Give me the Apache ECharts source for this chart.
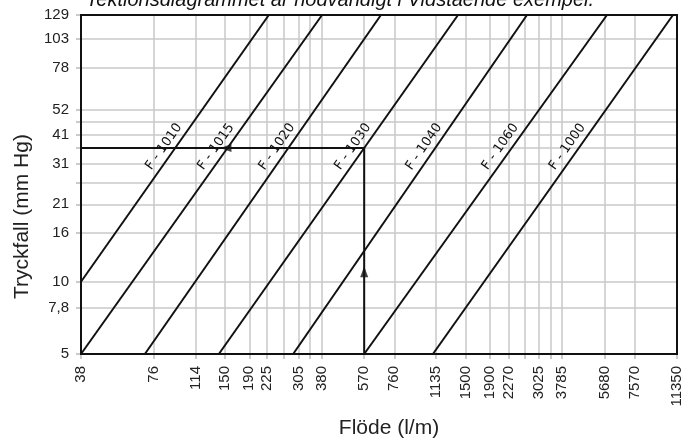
<!DOCTYPE html>
<html><head><meta charset="utf-8">
<script src="https://cdn.jsdelivr.net/npm/echarts@6/dist/echarts.min.js"></script>
<style>html,body{margin:0;padding:0;background:#fff}#c{width:681px;height:441px}</style>
</head><body><div id="c"></div>
<script>
const titleText = 'Tektionsdiagrammet är nödvändigt i Vidstående exempel.';
const xName = 'Flöde (l/m)';
const yName = 'Tryckfall (mm Hg)';
const xTicks = [38, 76, 114, 150, 190, 225, 305, 380, 570, 760, 1135, 1500, 1900, 2270, 3025, 3785, 5680, 7570, 11350];
const xExtraGrid = [265, 340, 2650, 3400];
const yTicks = [5, 7.8, 10, 16, 21, 31, 41, 52, 78, 103, 129];
const yTickLabels = ['5', '7,8', '10', '16', '21', '31', '41', '52', '78', '103', '129'];
const yExtraGrid = [25.9, 36.2, 46.5];
const filterNames = ['F - 1010', 'F - 1015', 'F - 1020', 'F - 1030', 'F - 1040', 'F - 1060', 'F - 1000'];
const lineStart = [[38, 10], [38, 5], [70, 5], [142, 5], [289, 5], [570, 5], [1100, 5]];
const lineEnd = [[229, 129], [381, 129], [669, 129], [1398, 129], [2704, 129], [5810, 129], [10920, 129]];
const pathX = [570, 570, 38];
const pathY = [5, 36, 36];
const arrowUp = [570, 11];
const arrowLeft = [152, 36];
const labelLevel = 34.5;

const FONT = 'Liberation Sans, Arial, sans-serif';
const chart = echarts.init(document.getElementById('c'));

const series = filterNames.map((n, i) => ({
  type: 'line', name: n, data: [lineStart[i], lineEnd[i]], symbol: 'none', silent: true,
  lineStyle: { color: '#111', width: 2 }, z: 3
}));
series.push({
  type: 'line', name: 'path', data: pathX.map((x, i) => [x, pathY[i]]), symbol: 'none', silent: true,
  lineStyle: { color: '#111', width: 2 }, z: 3
});
series.push({
  type: 'scatter', name: 'arrows', symbol: 'triangle', symbolSize: [8, 11], silent: true,
  data: [{ value: arrowUp, symbolRotate: 0 }, { value: arrowLeft, symbolRotate: 90 }],
  itemStyle: { color: '#111' }, z: 4
});

function yLabel(v) {
  let best = 0;
  yTicks.forEach((t, i) => { if (Math.abs(t - v) < Math.abs(yTicks[best] - v)) best = i; });
  return Math.abs(yTicks[best] - v) < 1e-6 * Math.max(1, v) ? yTickLabels[best] : '';
}

chart.setOption({
  animation: false,
  grid: { left: 81, right: 4, top: 15, bottom: 87, containLabel: false, outerBoundsMode: 'none' },
  xAxis: {
    type: 'log', logBase: 10, min: 38, max: 11350,
    name: xName, nameLocation: 'middle', nameGap: 64,
    nameTextStyle: { fontSize: 21, color: '#222', fontFamily: FONT, padding: [0, 0, 0, 20] },
    axisLine: { show: false },
    axisTick: { show: true, customValues: xTicks.concat(xExtraGrid), length: 5, lineStyle: { color: '#bbb', width: 1.5 } },
    axisLabel: { customValues: xTicks, rotate: 90, fontSize: 15, color: '#222', margin: 12, fontFamily: FONT, formatter: v => String(Math.round(v)) },
    splitLine: { show: true, lineStyle: { color: '#c8c8c8', width: 1.5 } },
    minorTick: { show: false }, minorSplitLine: { show: false }
  },
  yAxis: {
    type: 'log', logBase: 10, min: 5, max: 129,
    name: yName, nameLocation: 'middle', nameGap: 47,
    nameTextStyle: { fontSize: 21, color: '#222', fontFamily: FONT, padding: [0, 64, 0, 0] },
    axisLine: { show: false },
    axisTick: { show: true, customValues: yTicks.concat(yExtraGrid), length: 5, lineStyle: { color: '#bbb', width: 1.5 } },
    axisLabel: { customValues: yTicks, fontSize: 15, color: '#222', margin: 12, fontFamily: FONT, formatter: yLabel },
    splitLine: { show: true, lineStyle: { color: '#c8c8c8', width: 1.5 } },
    minorTick: { show: false }, minorSplitLine: { show: false }
  },
  series: series
});

const toPx = p => chart.convertToPixel({ xAxisIndex: 0, yAxisIndex: 0 }, p);
function xAtY(p1, p2, y) {
  const t = (Math.log(y) - Math.log(p1[1])) / (Math.log(p2[1]) - Math.log(p1[1]));
  return Math.exp(Math.log(p1[0]) + t * (Math.log(p2[0]) - Math.log(p1[0])));
}
const graphics = [];
filterNames.forEach((n, i) => {
  const a = toPx(lineStart[i]), b = toPx(lineEnd[i]);
  let dx = b[0] - a[0], dy = b[1] - a[1];
  const len = Math.hypot(dx, dy); dx /= len; dy /= len;
  const anc = toPx([xAtY(lineStart[i], lineEnd[i], labelLevel), labelLevel]);
  const off = 10;
  graphics.push({
    type: 'text', x: anc[0] + dy * off, y: anc[1] - dx * off, rotation: Math.atan2(-dy, dx), z: 50,
    style: { text: n, fill: '#111', font: '13px "DejaVu Sans", sans-serif', align: 'center', verticalAlign: 'middle' }
  });
});
const c0 = toPx([38, 129]), c1 = toPx([11350, 5]);
graphics.push({
  type: 'rect', z: 60, shape: { x: c0[0], y: c0[1], width: c1[0] - c0[0], height: c1[1] - c0[1] },
  style: { fill: 'transparent', stroke: '#111', lineWidth: 2 }
});
graphics.push({
  type: 'text', x: 340, y: 0, z: 50,
  style: { text: titleText, fill: '#111', font: 'italic 20px "Liberation Sans", Arial, sans-serif', align: 'center', verticalAlign: 'middle' }
});
chart.setOption({ graphic: graphics });
</script>
</body></html>
